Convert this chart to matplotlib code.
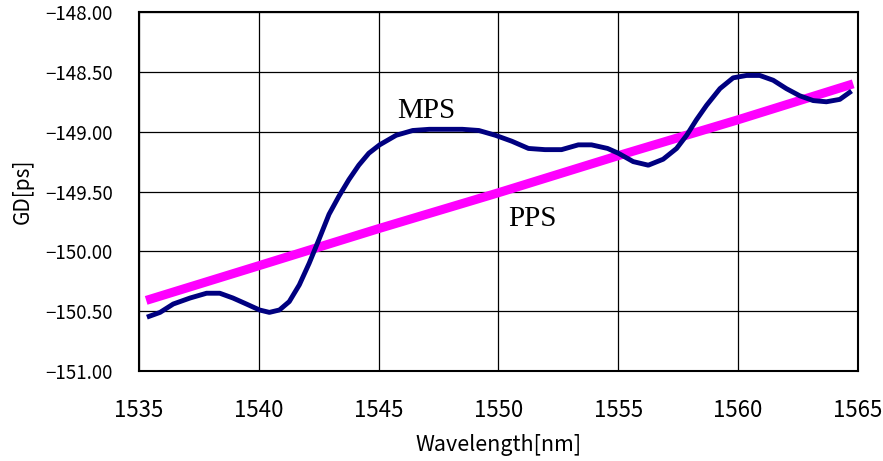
import matplotlib
matplotlib.use("Agg")
import matplotlib.pyplot as plt
from matplotlib.ticker import FuncFormatter, MultipleLocator

plt.rcParams['font.family'] = ['Noto Sans CJK JP', 'DejaVu Sans']

# MPS group delay curve
mps_wl = [1535.33, 1535.88, 1536.43, 1537.13, 1537.82, 1538.37, 1538.92, 1539.48,
          1540.03, 1540.44, 1540.86, 1541.27, 1541.69, 1542.10, 1542.51, 1542.93,
          1543.34, 1543.76, 1544.17, 1544.59, 1545.04, 1545.73, 1546.42, 1547.11,
          1547.80, 1548.49, 1549.18, 1549.87, 1550.56, 1551.25, 1551.94, 1552.63,
          1553.33, 1553.88, 1554.55, 1555.00, 1555.62, 1556.25, 1556.87, 1557.43,
          1557.85, 1558.26, 1558.68, 1559.24, 1559.79, 1560.35, 1560.90, 1561.46,
          1562.01, 1562.57, 1563.13, 1563.68, 1564.24, 1564.73]
mps_gd = [-150.55, -150.51, -150.44, -150.39, -150.35, -150.35, -150.39, -150.44,
          -150.49, -150.51, -150.49, -150.42, -150.28, -150.10, -149.90, -149.69,
          -149.54, -149.40, -149.28, -149.18, -149.11, -149.03, -148.99, -148.98,
          -148.98, -148.98, -148.99, -149.03, -149.08, -149.14, -149.15, -149.15,
          -149.11, -149.11, -149.14, -149.18, -149.25, -149.28, -149.23, -149.14,
          -149.03, -148.90, -148.78, -148.64, -148.55, -148.53, -148.53, -148.57,
          -148.64, -148.70, -148.74, -148.75, -148.73, -148.66]

# PPS (straight line)
pps_wl = [1535.3, 1540.0, 1545.0, 1550.0, 1555.0, 1560.0, 1564.8]
pps_gd = [-150.41, -150.12, -149.81, -149.51, -149.20, -148.90, -148.60]

fig = plt.figure(figsize=(8.83, 4.61), dpi=100)
ax = fig.add_axes([0.1574, 0.1952, 0.8143, 0.7787])

ax.plot(pps_wl, pps_gd, color='#ff00ff', lw=6.5, solid_capstyle='butt', zorder=3)
ax.plot(mps_wl, mps_gd, color='#000080', lw=3.5, zorder=4,
        solid_joinstyle='round', solid_capstyle='butt')

ax.text(1546.97, -148.83, 'MPS', family='Liberation Serif', fontsize=21,
        ha='center', va='center')
ax.text(1551.4, -149.73, 'PPS', family='Liberation Serif', fontsize=21,
        ha='center', va='center')

ax.set_xlim(1535, 1565)
ax.set_ylim(-151, -148)
ax.xaxis.set_major_locator(MultipleLocator(5))
ax.yaxis.set_major_locator(MultipleLocator(0.5))
ax.yaxis.set_major_formatter(FuncFormatter(lambda v, p: f"{v:.2f}".replace('-', '\u2212')))
ax.grid(True, color='black', lw=0.9)
ax.set_axisbelow(True)
for s in ax.spines.values():
    s.set_linewidth(1.5)
ax.tick_params(axis='x', length=0, pad=20, labelsize=16)
ax.tick_params(axis='y', length=0, pad=19, labelsize=13.5)

ax.set_xlabel('Wavelength[nm]', fontsize=15.5, va='center')
ax.set_ylabel('GD[ps]', fontsize=15, va='center')
ax.xaxis.set_label_coords(0.5, -0.206)
ax.yaxis.set_label_coords(-0.161, 0.5)

fig.savefig('out.png', dpi=100)
